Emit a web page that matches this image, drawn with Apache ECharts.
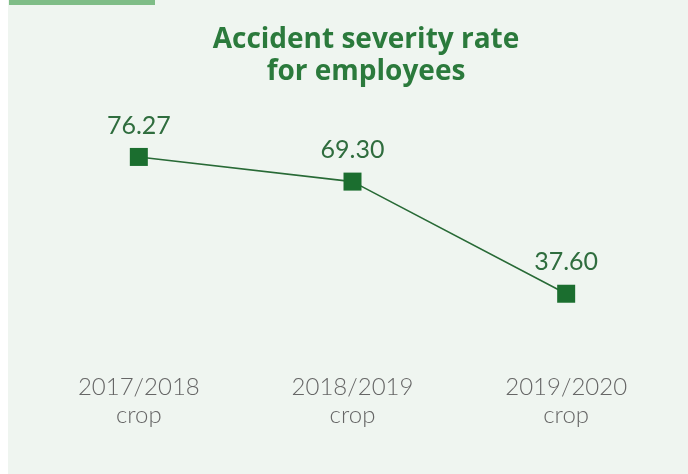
<!DOCTYPE html>
<html>
<head>
<meta charset="utf-8">
<script src="https://cdn.jsdelivr.net/npm/echarts@6/dist/echarts.min.js"></script>
<style>
  html, body { margin: 0; padding: 0; background: #ffffff; }
  #chart { width: 688px; height: 474px; }
</style>
</head>
<body>
<div id="chart"></div>
<script>
// Crop seasons and the accident severity rate recorded for each
const seasons = ['2017/2018\ncrop', '2018/2019\ncrop', '2019/2020\ncrop'];
const severityRate = [76.27, 69.30, 37.60];
const chartTitle = 'Accident severity rate\nfor employees';

const chart = echarts.init(document.getElementById('chart'), null, { renderer: 'canvas' });

chart.setOption({
  backgroundColor: '#ffffff',
  animation: false,
  graphic: [
    { type: 'rect', shape: { x: 8, y: 0, width: 680, height: 474 }, style: { fill: '#eff5f0' }, z: -10 },
    { type: 'rect', shape: { x: 9, y: 0, width: 146, height: 5 }, style: { fill: '#7fbd87' }, z: -5 }
  ],
  title: {
    text: chartTitle,
    left: 361,
    top: 19,
    textAlign: 'center',
    textStyle: {
      fontFamily: 'Open Sans',
      fontWeight: 'bold',
      fontSize: 28,
      lineHeight: 32,
      color: '#2b7a3c'
    }
  },
  grid: { left: 32, right: 15, top: 73, bottom: 118 },
  xAxis: {
    type: 'category',
    data: seasons,
    boundaryGap: true,
    axisLine: { show: false },
    axisTick: { show: false },
    axisLabel: {
      margin: 17,
      fontFamily: 'Lato',
      fontWeight: 300,
      fontSize: 24,
      lineHeight: 28,
      color: '#666666'
    }
  },
  yAxis: {
    type: 'value',
    min: 20,
    max: 100,
    show: false,
    splitLine: { show: false }
  },
  series: [{
    type: 'line',
    data: severityRate,
    symbol: 'rect',
    symbolSize: 18,
    itemStyle: { color: '#1b6e2f' },
    lineStyle: { color: '#286a36', width: 1.6 },
    label: {
      show: true,
      position: 'top',
      distance: 10,
      formatter: (p) => p.value.toFixed(2),
      fontFamily: 'Lato',
      fontSize: 25,
      color: '#2f6d3e'
    }
  }]
});
</script>
</body>
</html>
